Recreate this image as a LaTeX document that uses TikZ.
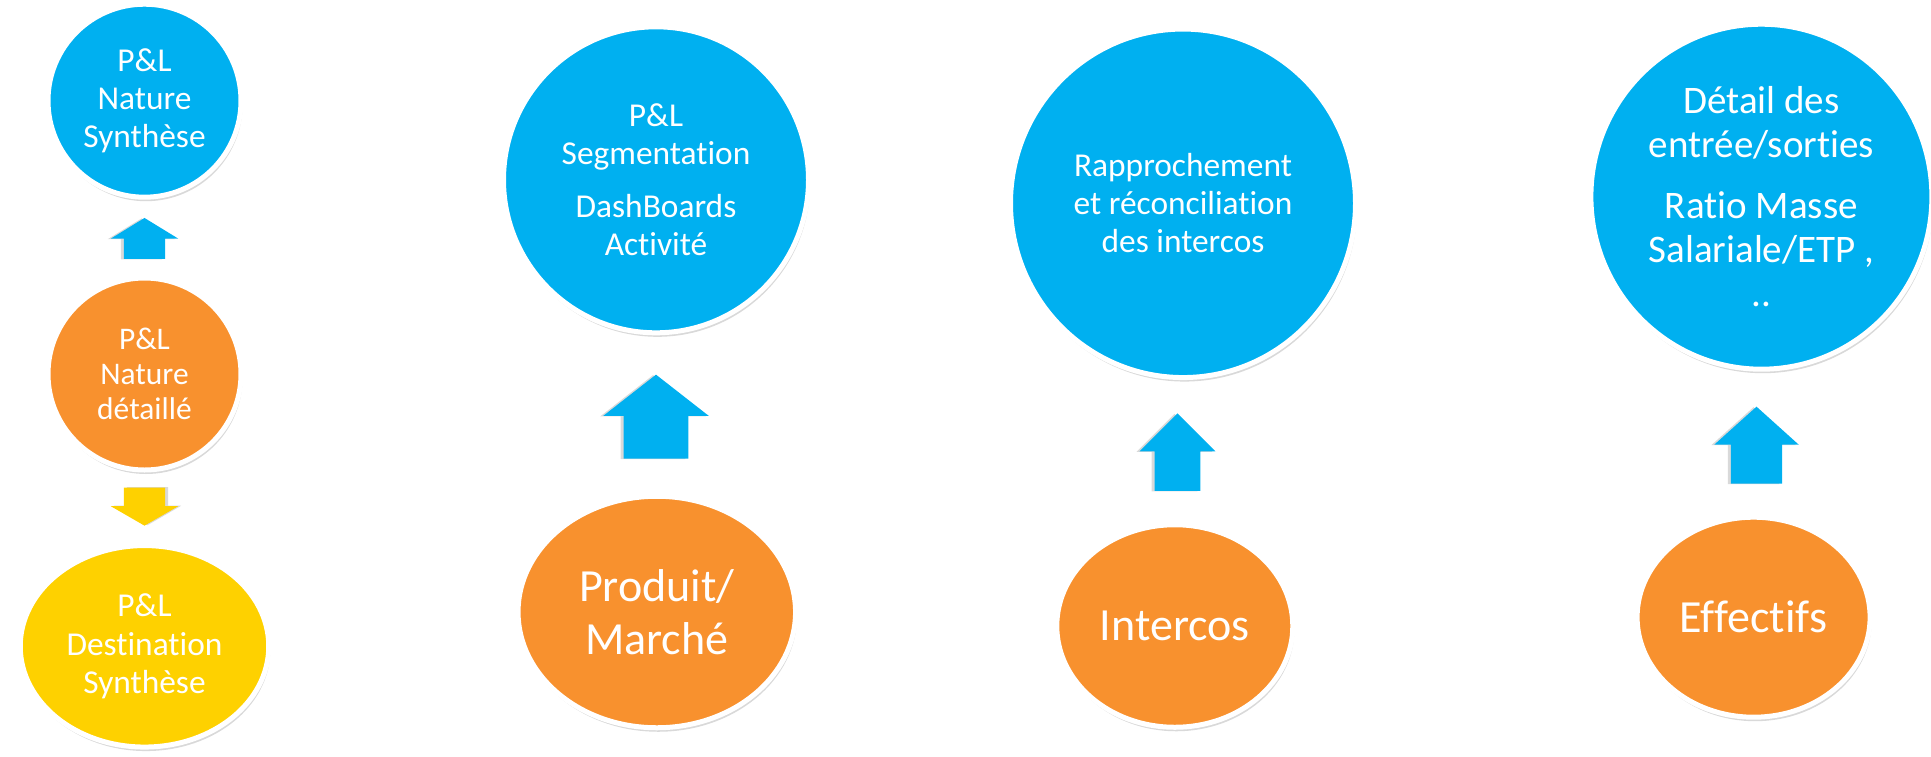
\documentclass[tikz,border=0pt]{standalone}
\usepackage{fontspec}
\setmainfont[Ligatures=NoCommon]{Carlito}
\usetikzlibrary{shapes.geometric,shapes.arrows,shadows}

\definecolor{BL}{HTML}{00B0F0}
\definecolor{OR}{HTML}{F8912E}
\definecolor{YE}{HTML}{FED100}

\begin{document}
\begin{tikzpicture}[
    bubble/.style={ellipse, draw=white, line width=0.1cm, inner sep=0pt, text=white, align=center,
        drop shadow={shadow xshift=0.03cm, shadow yshift=-0.08cm, opacity=0.3}},
    fsmall/.style={font=\fontsize{17.9}{20}\selectfont},
    fmid/.style={font=\fontsize{19}{21.7}\selectfont},
    fbig/.style={font=\fontsize{22.2}{25}\selectfont},
    fhuge/.style={font=\fontsize{26.2}{30.3}\selectfont},
    blockup/.style={single arrow, draw=none, inner xsep=0pt, minimum width=0pt, anchor=tail, rotate=90,
        drop shadow={shadow xshift=-0.06cm, shadow yshift=-0.01cm, opacity=0.3}},
    blockdown/.style={single arrow, draw=none, inner xsep=0pt, minimum width=0pt, anchor=tail, rotate=-90,
        drop shadow={shadow xshift=0.06cm, shadow yshift=0.01cm, opacity=0.3}}]
    \useasboundingbox (0,0) rectangle (38.62,-15.12);
    % colonne P&L
    \node[bubble, fmid, fill=BL, minimum width=3.86cm, minimum height=3.86cm] (synth) at (2.89,-2.014) {P\&L\\Nature\\Synthèse};
    \node[bubble, fsmall, fill=OR, minimum width=3.86cm, minimum height=3.84cm] (detail) at (2.89,-7.48) {P\&L\\Nature\\détaillé};
    \node[bubble, fmid, fill=YE, minimum width=4.97cm, minimum height=4.03cm] (dest) at (2.89,-12.926) {P\&L\\Destination\\Synthèse};
    \node[blockup, fill=BL, minimum height=0.82cm, inner ysep=0.404cm, single arrow head extend=0.262cm, single arrow tip angle=117] (a1) at (2.89,-5.186) {};
    \node[blockdown, fill=YE, minimum height=0.76cm, inner ysep=0.404cm, single arrow head extend=0.262cm, single arrow tip angle=120] (a2) at (2.89,-9.746) {};
    % produit / marche
    \node[bubble, fmid, fill=BL, minimum width=6.10cm, minimum height=6.12cm] (segm) at (13.12,-3.596) {P\&L\\Segmentation\\[0.29cm]DashBoards\\Activité};
    \node[bubble, fhuge, fill=OR, minimum width=5.55cm, minimum height=4.63cm] (prodm) at (13.136,-12.24) {Produit/\\Marché};
    \node[blockup, fill=BL, minimum height=1.68cm, inner ysep=0.64cm, single arrow head extend=0.408cm, single arrow tip angle=104] (a3) at (13.12,-9.18) {};
    % intercos
    \node[bubble, fmid, fill=BL, minimum width=6.90cm, minimum height=6.97cm] (rappr) at (23.66,-4.066) {Rapprochement\\et réconciliation\\des intercos};
    \node[bubble, fhuge, fill=OR, minimum width=4.72cm, minimum height=4.05cm] (interco) at (23.496,-12.52) {Intercos};
    \node[blockup, fill=BL, minimum height=1.552cm, inner ysep=0.45cm, single arrow head extend=0.302cm, single arrow tip angle=90] (a4) at (23.55,-9.826) {};
    % effectifs
    \node[bubble, fbig, fill=BL, minimum width=6.82cm, minimum height=6.90cm] (ratio) at (35.228,-3.934) {Détail des\\entrée/sorties\\[0.354cm]Ratio Masse\\Salariale/ETP ,\\..};
    \node[bubble, fhuge, fill=OR, minimum width=4.66cm, minimum height=4.00cm] (effect) at (35.072,-12.344) {Effectifs};
    \node[blockup, fill=BL, minimum height=1.54cm, inner ysep=0.505cm, single arrow head extend=0.333cm, single arrow tip angle=96] (a5) at (35.13,-9.68) {};
\end{tikzpicture}
\end{document}
